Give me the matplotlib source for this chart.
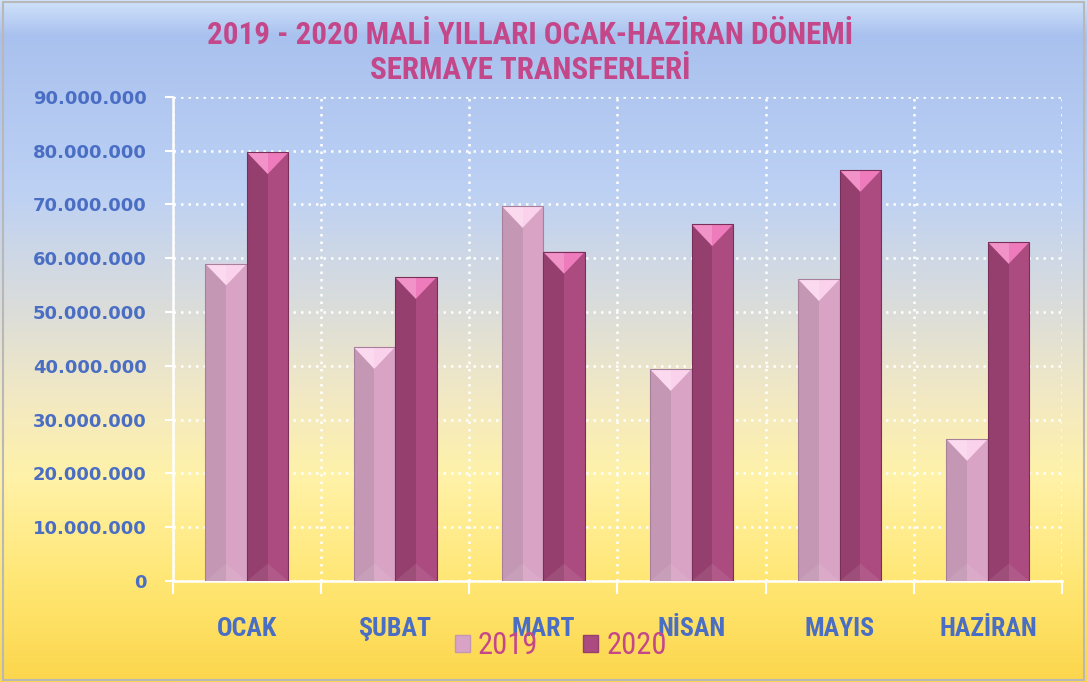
import os
import matplotlib
matplotlib.use("Agg")
import matplotlib.pyplot as plt
import matplotlib.font_manager as fm
import numpy as np
from matplotlib.colors import LinearSegmentedColormap
from matplotlib.patches import Polygon, Patch, Rectangle
from matplotlib.ticker import FuncFormatter, FixedLocator

months = ["OCAK", "ŞUBAT", "MART", "NİSAN", "MAYIS", "HAZİRAN"]
values_2019 = [59_000_000, 43_500_000, 69_700_000, 39_400_000, 56_100_000, 26_400_000]
values_2020 = [79_700_000, 56_500_000, 61_200_000, 66_300_000, 76_400_000, 63_000_000]
series_labels = ["2019", "2020"]
title_lines = ["2019 - 2020 MALİ YILLARI OCAK-HAZİRAN DÖNEMİ", "SERMAYE TRANSFERLERİ"]
y_ticks = list(range(0, 90_000_001, 10_000_000))


def find_narrow(bold):
    prefs = ["liberationsansnarrow", "robotocondensed", "opensanscondensed",
             "opensans_condensed", "notosanscondensed", "dejavusanscondensed"]
    files = [f.fname for f in fm.fontManager.ttflist]
    for p in prefs:
        for fn in files:
            b = os.path.basename(fn).lower().replace("-", "").replace(" ", "")
            if b.startswith(p):
                isbold = "bold" in b
                isital = "italic" in b or "oblique" in b
                if isbold == bold and not isital:
                    if bold and ("semibold" in b or "extrabold" in b):
                        continue
                    return fm.FontProperties(fname=fn)
    return fm.FontProperties(family="DejaVu Sans", weight="bold" if bold else "normal")


NB = find_narrow(True)
NR = find_narrow(False)

fig = plt.figure(figsize=(10.87, 6.82), dpi=100)
renderer = fig.canvas.get_renderer()


def fit(texts, target_px, base=20.0, cap_size=None):
    for t in texts:
        t.set_fontsize(base)
    wmax = max(t.get_window_extent(renderer).width for t in texts)
    size = base * target_px / wmax
    if cap_size:
        size = min(size, cap_size)
    for t in texts:
        t.set_fontsize(size)
    return size


# background gradient
bg = fig.add_axes([0, 0, 1, 1], zorder=-10)
stops = [(0.0, "#cfe2fb"), (0.05, "#a9c1ee"), (0.28, "#bdd1f4"), (0.44, "#d9dcdc"),
         (0.59, "#f3e9c2"), (0.70, "#fff2a8"), (0.86, "#ffe672"), (1.0, "#fcd64c")]
cmap = LinearSegmentedColormap.from_list("bg", stops)
grad = np.linspace(0, 1, 512).reshape(-1, 1)
bg.imshow(grad, aspect="auto", cmap=cmap, extent=[0, 1, 0, 1], origin="upper")
bg.add_patch(Rectangle((0.003, 0.003), 0.994, 0.994, transform=bg.transAxes,
                       fill=False, edgecolor="#b8b8b8", linewidth=1.5))
bg.set_xlim(0, 1); bg.set_ylim(0, 1)
bg.axis("off")

ax = fig.add_axes([0.159, 0.148, 0.818, 0.710])
ax.patch.set_alpha(0)

w = 0.28
x = np.arange(len(months))
ymax = 90_000_000
cap = 0.045 * ymax

styles = [
    dict(right="#d8a3c5", left="#c497b4", cap="#fbd2ec", edge="#a8809c"),
    dict(right="#ab4b80", left="#953f6e", cap="#ee7cbd", edge="#7a2f58"),
]

for vals, st, off in zip([values_2019, values_2020], styles, [-w / 2, w / 2]):
    xc = x + off
    ax.bar(xc, vals, width=w, color=st["right"], linewidth=0, zorder=3)
    ax.bar(xc - w / 4, vals, width=w / 2, color=st["left"], linewidth=0, zorder=3.1)
    for xi, v in zip(xc, vals):
        ax.add_patch(Polygon([(xi - w / 2, v), (xi + w / 2, v), (xi, v - cap)], closed=True,
                             facecolor=st["cap"], edgecolor="none", zorder=3.2))
        ax.add_patch(Polygon([(xi - w / 2, v), (xi, v), (xi, v - cap)], closed=True,
                             facecolor="white", alpha=0.18, edgecolor="none", zorder=3.3))
        ax.add_patch(Polygon([(xi - w / 2, 0), (xi + w / 2, 0), (xi, cap * 0.8)], closed=True,
                             facecolor="white", alpha=0.08, edgecolor="none", zorder=3.3))
    ax.bar(xc, vals, width=w, fill=False, edgecolor=st["edge"], linewidth=0.8, zorder=3.4)

ax.set_xlim(-0.5, len(months) - 0.5)
ax.set_ylim(0, ymax)
ax.set_yticks(y_ticks)
ax.yaxis.set_major_formatter(FuncFormatter(lambda v, p: f"{int(v):,}".replace(",", ".")))
ax.set_xticks(x)
ax.set_xticklabels(months)
ax.xaxis.set_minor_locator(FixedLocator(np.arange(-0.5, len(months), 1.0)))

for sp in ["top", "right"]:
    ax.spines[sp].set_visible(False)
for sp in ["left", "bottom"]:
    ax.spines[sp].set_color("white")
    ax.spines[sp].set_linewidth(1.8)

ax.grid(axis="y", which="major", color="white", linestyle=(0, (1, 2)), linewidth=1.8, zorder=1)
ax.grid(axis="x", which="minor", color="white", linestyle=(0, (1, 2)), linewidth=1.8, zorder=1)
ax.grid(axis="x", which="major", visible=False)

ax.tick_params(axis="y", which="major", length=6, width=1.5, color="white", pad=13,
               labelsize=13, labelcolor="#4a6ec4")
for t in ax.get_yticklabels():
    t.set_fontweight("bold")
ax.tick_params(axis="x", which="major", length=0, pad=26, labelcolor="#4a6ec4")
ax.tick_params(axis="x", which="minor", length=9, width=1.5, color="white")
for t in ax.get_xticklabels():
    t.set_fontproperties(NB)
fit(ax.get_xticklabels(), 98, cap_size=19)

title_texts = []
for i, line in enumerate(title_lines):
    title_texts.append(fig.text(0.488, 0.949 - i * 0.052, line, ha="center", va="center",
                                color="#c4478a", fontproperties=NB))
fit([title_texts[0]], 648, cap_size=24)
title_texts[1].set_fontsize(title_texts[0].get_fontsize())

# legend: size fitted to reference width of "2019"
probe = fig.text(0, 0, series_labels[0], fontproperties=NR)
leg_size = fit([probe], 61, cap_size=22)
probe.remove()
em = leg_size * 100 / 72.0
leg_prop = NR.copy()
leg_prop.set_size(leg_size)

handles = [Patch(facecolor=styles[0]["right"], edgecolor=styles[0]["left"]),
           Patch(facecolor=styles[1]["right"], edgecolor=styles[1]["left"])]
leg = fig.legend(handles, series_labels, loc="center", bbox_to_anchor=(0.516, 0.053), ncol=2,
                 frameon=False, prop=leg_prop, handlelength=15 / em,
                 handleheight=15 / em, columnspacing=45 / em, handletextpad=8 / em,
                 borderpad=0.1)
for t in leg.get_texts():
    t.set_color("#c4478a")

fig.savefig("out.png", dpi=100)
